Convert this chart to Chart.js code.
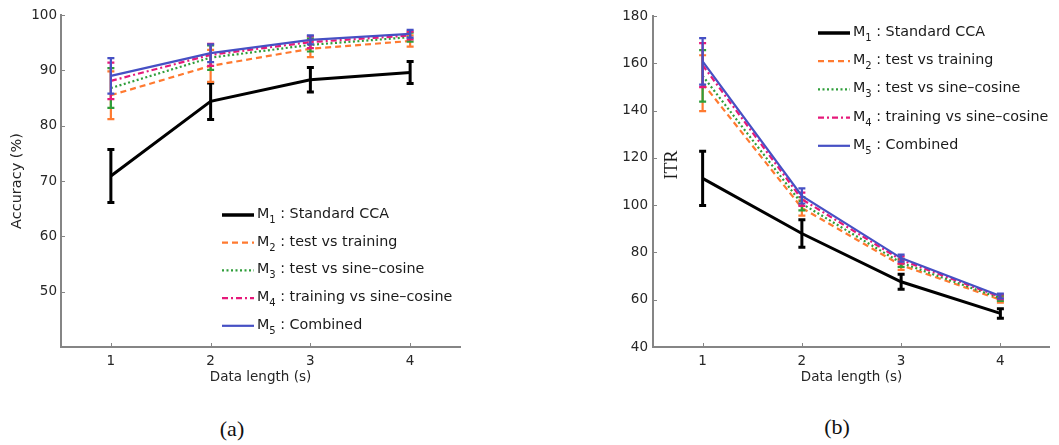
<!DOCTYPE html>
<html>
<head>
<meta charset="utf-8">
<script src="https://cdn.jsdelivr.net/npm/chart.js@4.4.1/dist/chart.umd.min.js"></script>
<style>
html,body{margin:0;padding:0;background:#fff;width:1059px;height:445px;overflow:hidden;}
#ca{position:absolute;left:0;top:0;}
#cb{position:absolute;left:580px;top:0;}
.cap{position:absolute;font-family:"Liberation Serif","DejaVu Serif",serif;font-size:22px;color:#111;transform:translate(-50%,-50%);white-space:nowrap;}
</style>
</head>
<body>
<canvas id="ca" width="480" height="395"></canvas>
<canvas id="cb" width="470" height="395"></canvas>
<div class="cap" style="left:232px;top:429px;">(a)</div>
<div class="cap" style="left:837px;top:427px;">(b)</div>
<script>
// ---------- data ----------
const dataLengths = [1, 2, 3, 4];
const xTickValues = [1, 2, 3, 4];
const seriesLabels = [
  'M₁ : Standard CCA',
  'M₂ : test vs training',
  'M₃ : test vs sine–cosine',
  'M₄ : training vs sine–cosine',
  'M₅ : Combined'
];

// (a) Accuracy (%) means and standard deviations
const accM1 = [70.9, 84.4, 88.3, 89.6];
const accM2 = [85.5, 90.8, 93.9, 95.3];
const accM3 = [86.8, 92.3, 94.6, 96.0];
const accM4 = [88.1, 92.8, 95.1, 96.3];
const accM5 = [89.0, 93.1, 95.5, 96.6];
const accM1Err = [4.8, 3.3, 2.2, 2.0];
const accM2Err = [4.3, 2.9, 1.5, 1.0];
const accM3Err = [3.6, 2.2, 1.2, 0.8];
const accM4Err = [3.3, 2.0, 1.1, 0.7];
const accM5Err = [3.2, 1.6, 0.8, 0.7];
const accYTicks = [50, 60, 70, 80, 90, 100];

// (b) ITR means and standard deviations
const itrM1 = [111.3, 88.0, 67.6, 54.2];
const itrM2 = [151.6, 98.8, 74.6, 60.0];
const itrM3 = [154.7, 100.6, 75.6, 60.6];
const itrM4 = [159.2, 102.5, 76.8, 61.2];
const itrM5 = [160.8, 103.9, 77.6, 61.6];
const itrM1Err = [11.5, 5.8, 3.2, 2.0];
const itrM2Err = [11.8, 3.2, 2.0, 1.2];
const itrM3Err = [10.9, 2.8, 1.7, 1.1];
const itrM4Err = [9.3, 2.8, 1.5, 1.0];
const itrM5Err = [9.8, 3.2, 1.5, 1.0];
const itrYTicks = [40, 60, 80, 100, 120, 140, 160, 180];

// ---------- styles ----------
const seriesStyles = [
  {color: '#000000', width: 3, dash: [], legendWidth: 3.5},
  {color: '#ff7a30', width: 2.2, dash: [6, 4], legendWidth: 2.2},
  {color: '#2f9e3a', width: 2.2, dash: [2, 2.5], legendWidth: 2.2},
  {color: '#e6197a', width: 2.2, dash: [6, 3, 2, 3], legendWidth: 2.2},
  {color: '#4650c4', width: 2.2, dash: [], legendWidth: 2.2}
];
const SANS = '"DejaVu Sans", "Liberation Sans", sans-serif';
const AXIS_COLOR = '#858585';
const TEXT_COLOR = '#262626';

const subMap = {'₁':'1','₂':'2','₃':'3','₄':'4','₅':'5'};

const errorBarPlugin = {
  id: 'errorBars',
  afterDatasetDraw(chart, args) {
    const ds = chart.data.datasets[args.index];
    if (!ds.errors) return;
    const ctx = chart.ctx;
    const yScale = chart.scales.y;
    ctx.save();
    ctx.strokeStyle = ds.borderColor;
    ctx.lineWidth = ds.borderWidth;
    ctx.setLineDash([]);
    args.meta.data.forEach((pt, i) => {
      const v = ds.data[i];
      const e = ds.errors[i];
      const yTop = yScale.getPixelForValue(v + e);
      const yBot = yScale.getPixelForValue(v - e);
      const x = pt.x;
      const hw = 3.5;
      ctx.beginPath();
      ctx.moveTo(x, yTop); ctx.lineTo(x, yBot);
      ctx.moveTo(x - hw, yTop); ctx.lineTo(x + hw, yTop);
      ctx.moveTo(x - hw, yBot); ctx.lineTo(x + hw, yBot);
      ctx.stroke();
    });
    ctx.restore();
  }
};

const decorPlugin = {
  id: 'decor',
  afterDraw(chart, args, opts) {
    const ctx = chart.ctx;
    const xs = chart.scales.x, ys = chart.scales.y;
    const area = chart.chartArea;
    ctx.save();
    // inward ticks
    ctx.strokeStyle = AXIS_COLOR;
    ctx.lineWidth = 1;
    ctx.setLineDash([]);
    ctx.beginPath();
    xTickValues.forEach((v, i) => {
      const px = Math.round(xs.getPixelForTick(i)) + 0.5;
      ctx.moveTo(px, area.bottom); ctx.lineTo(px, area.bottom - 4);
    });
    opts.yTicks.forEach(v => {
      const py = Math.round(ys.getPixelForValue(v)) + 0.5;
      ctx.moveTo(area.left, py); ctx.lineTo(area.left + 4, py);
    });
    ctx.stroke();

    // legend
    const L = opts.legend;
    chart.data.datasets.forEach((ds, i) => {
      const st = seriesStyles[i];
      const y = L.y + i * L.rowGap;
      ctx.strokeStyle = st.color;
      ctx.lineWidth = st.legendWidth;
      ctx.setLineDash(st.dash);
      ctx.beginPath();
      ctx.moveTo(L.x, y); ctx.lineTo(L.x + L.len, y);
      ctx.stroke();
      ctx.setLineDash([]);
      const m = ds.label.match(/^M(.)\s*:\s*(.*)$/);
      const sub = subMap[m[1]] || m[1];
      const rest = m[2];
      ctx.fillStyle = '#1a1a1a';
      ctx.textBaseline = 'alphabetic';
      ctx.textAlign = 'left';
      let tx = L.textX;
      const base = y + 3;
      ctx.font = L.size + 'px ' + SANS;
      ctx.fillText('M', tx, base);
      tx += ctx.measureText('M').width;
      ctx.font = (L.size * 0.7) + 'px ' + SANS;
      ctx.fillText(sub, tx, base + 5);
      tx += ctx.measureText(sub).width;
      ctx.font = L.size + 'px ' + SANS;
      ctx.fillText(' : ' + rest, tx, base);
    });

    // optional y label drawn inside the plot
    if (opts.innerLabel) {
      const IL = opts.innerLabel;
      ctx.save();
      ctx.translate(IL.x, IL.y);
      ctx.rotate(-Math.PI / 2);
      ctx.font = IL.font;
      ctx.fillStyle = '#1a1a1a';
      ctx.textAlign = 'center';
      ctx.textBaseline = 'middle';
      ctx.fillText(IL.text, 0, 0);
      ctx.restore();
    }
    ctx.restore();
  }
};

function buildDatasets(means, errs) {
  return means.map((m, i) => ({
    label: seriesLabels[i],
    data: m,
    errors: errs[i],
    borderColor: seriesStyles[i].color,
    backgroundColor: seriesStyles[i].color,
    borderWidth: seriesStyles[i].width,
    borderDash: seriesStyles[i].dash,
    pointRadius: 0,
    pointHoverRadius: 0,
    tension: 0,
    fill: false,
    clip: false,
    order: 5 - i
  }));
}

function makeChart(canvas, cfg) {
  return new Chart(canvas, {
    type: 'line',
    data: {
      labels: dataLengths,
      datasets: buildDatasets(cfg.means, cfg.errs)
    },
    options: {
      responsive: false,
      animation: false,
      devicePixelRatio: 1,
      layout: {padding: cfg.padding},
      plugins: {
        legend: {display: false},
        tooltip: {enabled: false},
        decor: {yTicks: cfg.yTicks, legend: cfg.legend, innerLabel: cfg.innerLabel}
      },
      scales: {
        x: {
          type: 'category',
          offset: true,
          grid: {display: false, drawTicks: false},
          border: {display: true, color: AXIS_COLOR, width: 2},
          ticks: {color: TEXT_COLOR, font: {family: SANS, size: 13.5}, padding: 6, maxRotation: 0, autoSkip: false},
          title: {display: true, text: 'Data length (s)', color: TEXT_COLOR, font: {family: SANS, size: 13.5}, padding: {top: 0, bottom: 9}},
          afterFit: s => { s.height = 48; }
        },
        y: {
          min: cfg.yMin, max: cfg.yMax,
          afterBuildTicks: s => { s.ticks = cfg.yTicks.map(v => ({value: v})); },
          grid: {display: false, drawTicks: false},
          border: {display: true, color: AXIS_COLOR, width: 2},
          ticks: {color: TEXT_COLOR, font: {family: SANS, size: 13.5}, padding: cfg.yPad},
          title: {display: !!cfg.yTitle, text: cfg.yTitle || '', color: TEXT_COLOR, font: {family: SANS, size: 14.5}, padding: {top: 9, bottom: 0}},
          afterFit: s => { s.width = cfg.yWidth; }
        }
      }
    },
    plugins: [errorBarPlugin, decorPlugin]
  });
}

makeChart(document.getElementById('ca'), {
  means: [accM1, accM2, accM3, accM4, accM5],
  errs: [accM1Err, accM2Err, accM3Err, accM4Err, accM5Err],
  yMin: 40, yMax: 100, yTicks: accYTicks,
  yTitle: 'Accuracy (%)',
  yWidth: 61, yPad: 4,
  padding: {left: 0, right: 20, top: 15, bottom: 0},
  legend: {x: 222, y: 215, rowGap: 27.7, len: 32, textX: 257, size: 14.3}
});

makeChart(document.getElementById('cb'), {
  means: [itrM1, itrM2, itrM3, itrM4, itrM5],
  errs: [itrM1Err, itrM2Err, itrM3Err, itrM4Err, itrM5Err],
  yMin: 40, yMax: 180, yTicks: itrYTicks,
  yTitle: '',
  yWidth: 73, yPad: 5,
  padding: {left: 0, right: 0, top: 16, bottom: 0},
  legend: {x: 238, y: 33, rowGap: 28.2, len: 32, textX: 273, size: 14.3},
  innerLabel: {x: 92, y: 165, text: 'ITR', font: '18px "Liberation Serif", "DejaVu Serif", serif'}
});
</script>
</body>
</html>
